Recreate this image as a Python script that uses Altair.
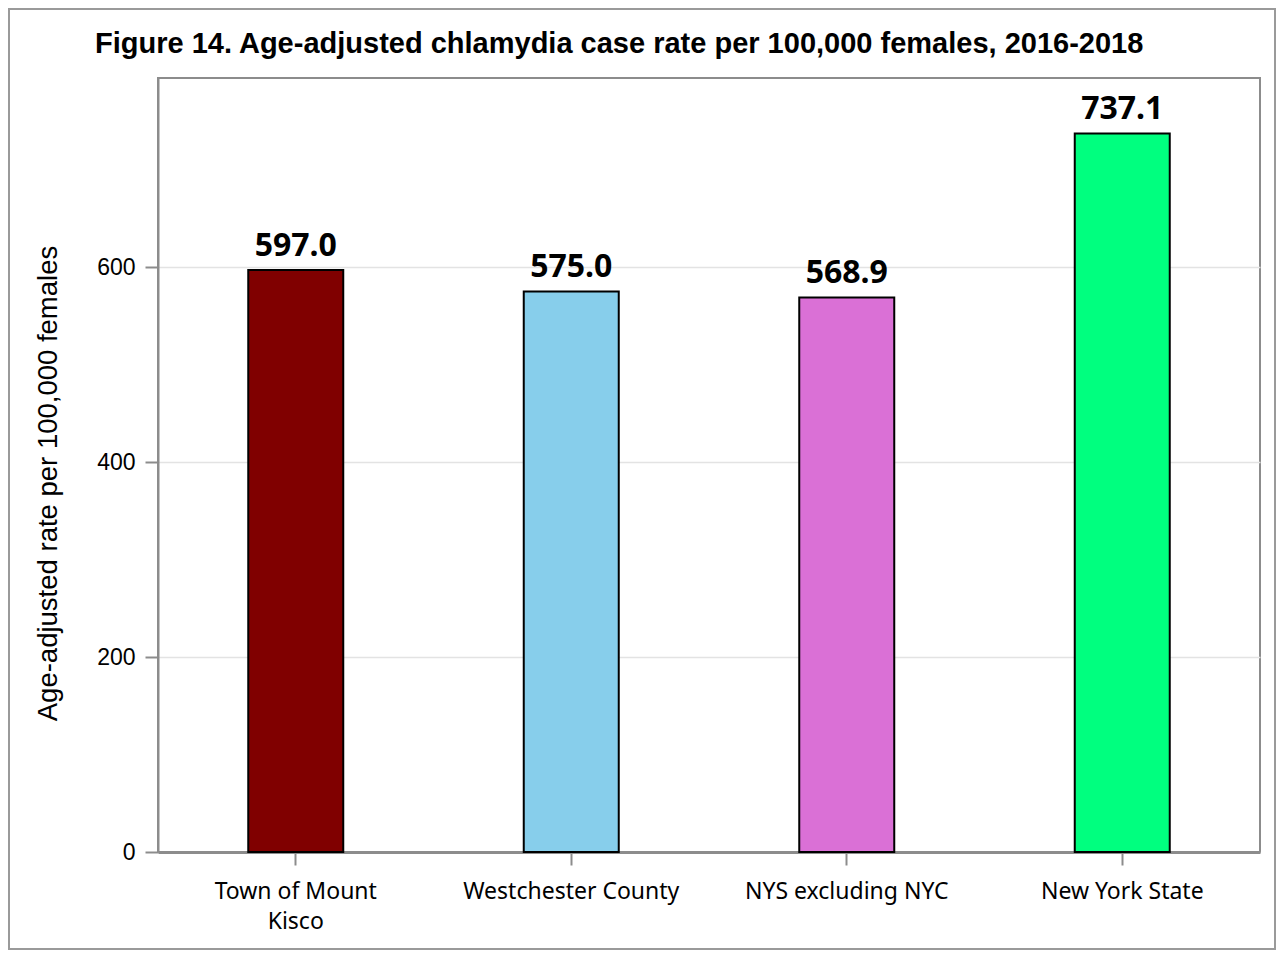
import altair as alt
import pandas as pd

categories = ["Town of Mount Kisco", "Westchester County", "NYS excluding NYC", "New York State"]
rates = [597.0, 575.0, 568.9, 737.1]
colors = ["#800000", "#87CEEB", "#DA70D6", "#00FF7F"]
y_ticks = [0, 200, 400, 600]

df = pd.DataFrame({"area": categories, "rate": rates})

W, H = 1102, 774
PAD = {"left": 150, "top": 70, "right": 16, "bottom": 98}
GRAY = "#8c8c8c"

x_enc = alt.X(
    "area:N",
    sort=categories,
    title=None,
    scale=alt.Scale(paddingInner=0, paddingOuter=0),
    axis=alt.Axis(
        labelAngle=0,
        labelFont="Noto Sans",
        labelFontSize=23,
        labelColor="black",
        labelPadding=15,
        labelLineHeight=30,
        labelLimit=400,
        labelExpr="datum.label == 'Town of Mount Kisco' ? ['Town of Mount', 'Kisco'] : datum.label",
        tickSize=13,
        tickColor=GRAY,
        tickWidth=2,
        domainColor=GRAY,
        domainWidth=3,
        grid=False,
    ),
)
y_enc = alt.Y(
    "rate:Q",
    title="Age-adjusted rate per 100,000 females",
    scale=alt.Scale(domain=[0, 794], nice=False),
    axis=alt.Axis(
        values=y_ticks,
        labelFont="Liberation Sans",
        labelFontSize=23,
        labelColor="black",
        labelPadding=10,
        tickSize=13,
        tickColor=GRAY,
        tickWidth=2,
        domainColor=GRAY,
        domainWidth=2,
        grid=True,
        gridColor="#e3e3e3",
        gridWidth=1.5,
        titleFont="Liberation Sans",
        titleFontSize=27.5,
        titleFontWeight="normal",
        titleColor="black",
        titlePadding=34,
        titleY=405,
    ),
)

bars = alt.Chart(df).mark_bar(size=95, stroke="black", strokeWidth=2).encode(
    x=x_enc,
    y=y_enc,
    color=alt.Color("area:N", scale=alt.Scale(domain=categories, range=colors), legend=None),
)

labels = alt.Chart(df).mark_text(
    font="Noto Sans", fontSize=32, fontWeight="bold", color="black", baseline="bottom", dy=-7
).encode(
    x=alt.X("area:N", sort=categories),
    y=alt.Y("rate:Q"),
    text=alt.Text("rate:Q", format=".1f"),
)

border = alt.Chart(pd.DataFrame({"k": [0]})).mark_rect(
    fill=None, stroke="#9a9a9a", strokeWidth=2
).encode(
    x=alt.value(-PAD["left"] + 1),
    x2=alt.value(W + PAD["right"] - 1),
    y=alt.value(-PAD["top"] + 1),
    y2=alt.value(H + PAD["bottom"] - 1),
)

chart = alt.layer(bars, labels, border).properties(
    width=W,
    height=H,
    padding=PAD,
    autosize=alt.AutoSizeParams(type="none"),
    title=alt.TitleParams(
        "Figure 14. Age-adjusted chlamydia case rate per 100,000 females, 2016-2018",
        anchor="start",
        frame="group",
        dx=-63,
        offset=-51,
        font="Liberation Sans",
        fontSize=29,
        fontWeight="bold",
        color="black",
    ),
).configure_view(stroke=GRAY, strokeWidth=2)

chart.save("out.html", embed_options={"renderer": "svg", "actions": False})
